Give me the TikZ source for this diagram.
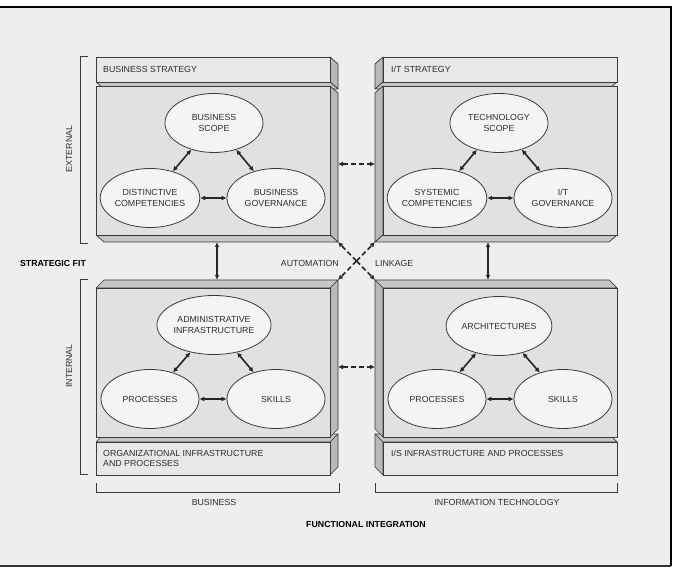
\documentclass[tikz,border=0pt]{standalone}
\usepackage{fontspec}
\setmainfont{Liberation Sans}
\usetikzlibrary{shapes.geometric,arrows.meta}
\definecolor{bgc}{HTML}{EEEEEE}
\definecolor{facec}{HTML}{E1E1E1}
\definecolor{headc}{HTML}{E8E8E8}
\definecolor{ellc}{HTML}{F4F4F4}
\definecolor{sidec}{HTML}{B9B9B9}
\definecolor{capc}{HTML}{C6C6C6}
\definecolor{linec}{HTML}{3A3A3A}
\definecolor{txtc}{HTML}{2E2E2E}
\newcommand\lblfont{\fontsize{8.8}{11.5}\selectfont}
\tikzset{
  face/.style={draw=linec, line width=0.7pt, inner sep=0pt, anchor=north west},
  bodyface/.style={face, fill=facec, minimum width=234pt, minimum height=149pt},
  headface/.style={face, fill=headc, minimum width=234pt, minimum height=25pt},
  footface/.style={face, fill=headc, minimum width=234pt, minimum height=33pt},
  sideA/.style={draw=linec, fill=sidec, line width=0.7pt, line join=round},
  sideB/.style={draw=linec, fill=capc, line width=0.7pt, line join=round},
  ell/.style={ellipse, draw=linec, fill=ellc, line width=0.8pt, minimum width=98pt,
    minimum height=59pt, inner sep=0pt, align=center, font=\lblfont, text=txtc},
  lbl/.style={font=\lblfont, text=txtc, inner sep=0pt},
  boldlbl/.style={font=\lblfont\bfseries, text=black, inner sep=0pt},
  link/.style={{Latex[length=5pt,width=5pt]}-{Latex[length=5pt,width=5pt]}, line width=1.6pt, draw=black!85},
  vlink/.style={{Latex[length=5pt,width=4.5pt]}-{Latex[length=5pt,width=4.5pt]}, line width=1.1pt, draw=black!85},
  dlink/.style={{Latex[length=5pt,width=5pt]}-{Latex[length=5pt,width=5pt]}, line width=1.6pt, draw=black!85, dash pattern=on 5pt off 3pt},
  xlink/.style={-{Latex[length=5pt,width=5pt]}, line width=1.6pt, draw=black!85, dash pattern=on 5pt off 3pt},
  brk/.style={draw=linec, line width=0.8pt},
}
\begin{document}
\begin{tikzpicture}[x=1pt,y=-1pt]
\useasboundingbox (0,0) rectangle (675,569);
\fill[white] (0,0) rectangle (675,569);
\fill[bgc] (-3,7) rectangle (671,566);
\draw[black, line width=2pt] (-3,7) -- (671,7) -- (671,566);
\draw[black!80, line width=1.4pt] (671,566) -- (-3,566);

% ---------- top-left: business strategy ----------
\draw[sideA] (330,57) -- (338,64) -- (338,89) -- (330,82) -- cycle;
\draw[sideB] (96,82) -- (330,82) -- (338,89) -- (104,89) -- cycle;
\node[headface] (tlh) at (96,57) {};
\draw[sideA] (330,86) -- (338,93) -- (338,242) -- (330,235) -- cycle;
\draw[sideB] (96,235) -- (330,235) -- (338,242) -- (104,242) -- cycle;
\node[bodyface] (tlb) at (96,86) {};

% ---------- top-right: I/T strategy ----------
\draw[sideA] (383,57) -- (375,64) -- (375,89) -- (383,82) -- cycle;
\draw[sideB] (617,82) -- (383,82) -- (375,89) -- (609,89) -- cycle;
\node[headface] (trh) at (383,57) {};
\draw[sideA] (383,86) -- (375,93) -- (375,242) -- (383,235) -- cycle;
\draw[sideB] (617,235) -- (383,235) -- (375,242) -- (609,242) -- cycle;
\node[bodyface] (trb) at (383,86) {};

% ---------- bottom-left: organizational infrastructure ----------
\draw[sideB] (96,442) -- (330,442) -- (338,434) -- (104,434) -- cycle;
\draw[sideA] (330,442) -- (338,434) -- (338,467) -- (330,475) -- cycle;
\node[footface] (blf) at (96,442) {};
\draw[sideB] (96,288) -- (330,288) -- (338,280) -- (104,280) -- cycle;
\draw[sideA] (330,288) -- (338,280) -- (338,429) -- (330,437) -- cycle;
\node[bodyface] (blb) at (96,288) {};

% ---------- bottom-right: I/S infrastructure ----------
\draw[sideB] (617,442) -- (383,442) -- (375,434) -- (609,434) -- cycle;
\draw[sideA] (383,442) -- (375,434) -- (375,467) -- (383,475) -- cycle;
\node[footface] (brf) at (383,442) {};
\draw[sideB] (617,288) -- (383,288) -- (375,280) -- (609,280) -- cycle;
\draw[sideA] (383,288) -- (375,280) -- (375,429) -- (383,437) -- cycle;
\node[bodyface] (brb) at (383,288) {};

% ---------- box titles ----------
\node[lbl, anchor=west] (t1) at (103,69) {BUSINESS STRATEGY};
\node[lbl, anchor=west] (t2) at (391,69) {I/T STRATEGY};
\node[lbl, anchor=west, align=left, font=\fontsize{8.8}{10}\selectfont] (t3) at (103,458.5) {ORGANIZATIONAL INFRASTRUCTURE\\AND PROCESSES};
\node[lbl, anchor=west] (t4) at (391,453.5) {I/S INFRASTRUCTURE AND PROCESSES};

% ---------- ellipses ----------
\node[ell] (bs) at (214,123) {BUSINESS\\SCOPE};
\node[ell] (dc) at (150,198) {DISTINCTIVE\\COMPETENCIES};
\node[ell] (bg) at (276,198) {BUSINESS\\GOVERNANCE};
\node[ell] (ts) at (499,123) {TECHNOLOGY\\SCOPE};
\node[ell] (sc) at (437,198) {SYSTEMIC\\COMPETENCIES};
\node[ell] (ig) at (563,198) {I/T\\GOVERNANCE};
\node[ell] (ai) at (214,325) {ADMINISTRATIVE\\INFRASTRUCTURE};
\node[ell] (p1) at (150,399) {PROCESSES};
\node[ell] (s1) at (276,399) {SKILLS};
\node[ell] (ar) at (499,326) {ARCHITECTURES};
\node[ell] (p2) at (437,399) {PROCESSES};
\node[ell] (s2) at (563,399) {SKILLS};

\draw[link] (bs) -- (dc);
\draw[link] (bs) -- (bg);
\draw[link] (dc) -- (bg);
\draw[link] (ts) -- (sc);
\draw[link] (ts) -- (ig);
\draw[link] (sc) -- (ig);
\draw[link] (ai) -- (p1);
\draw[link] (ai) -- (s1);
\draw[link] (p1) -- (s1);
\draw[link] (ar) -- (p2);
\draw[link] (ar) -- (s2);
\draw[link] (p2) -- (s2);

% ---------- connectors between boxes ----------
\coordinate (tlbot) at (217,242);
\coordinate (bltop) at (217,280);
\coordinate (trbot) at (488,242);
\coordinate (brtop) at (488,280);
\coordinate (tlr) at (338,164);
\coordinate (trl) at (375,164);
\coordinate (blr) at (338,367);
\coordinate (brl) at (375,367);
\coordinate (xc) at (356.5,261);
\coordinate (ctl) at (338,242);
\coordinate (ctr) at (375,242);
\coordinate (cbl) at (338,280);
\coordinate (cbr) at (375,280);

\draw[vlink] (tlbot) -- (bltop);
\draw[vlink] (trbot) -- (brtop);
\draw[dlink] (tlr) -- (trl);
\draw[dlink] (blr) -- (brl);
\draw[xlink] (xc) -- (ctl);
\draw[xlink] (xc) -- (ctr);
\draw[xlink] (xc) -- (cbl);
\draw[xlink] (xc) -- (cbr);

\node[lbl, anchor=east] (auto) at (339,263) {AUTOMATION};
\node[lbl, anchor=west] (link) at (375,263) {LINKAGE};

% ---------- brackets and axis labels ----------
\draw[brk] (88,56) -- (80,56) -- (80,243) -- (88,243);
\draw[brk] (88,279) -- (80,279) -- (80,474) -- (88,474);
\draw[brk] (96,483) -- (96,492) -- (339,492) -- (339,483);
\draw[brk] (375,483) -- (375,492) -- (617,492) -- (617,483);
\node[lbl, rotate=90] (ext) at (69,149) {EXTERNAL};
\node[lbl, rotate=90] (int) at (69,366) {INTERNAL};
\node[boldlbl] (sfit) at (53,263) {STRATEGIC FIT};
\node[lbl] (bus) at (214,502) {BUSINESS};
\node[lbl] (it) at (497,502) {INFORMATION TECHNOLOGY};
\node[boldlbl] (fint) at (366,524) {FUNCTIONAL INTEGRATION};
\end{tikzpicture}
\end{document}
